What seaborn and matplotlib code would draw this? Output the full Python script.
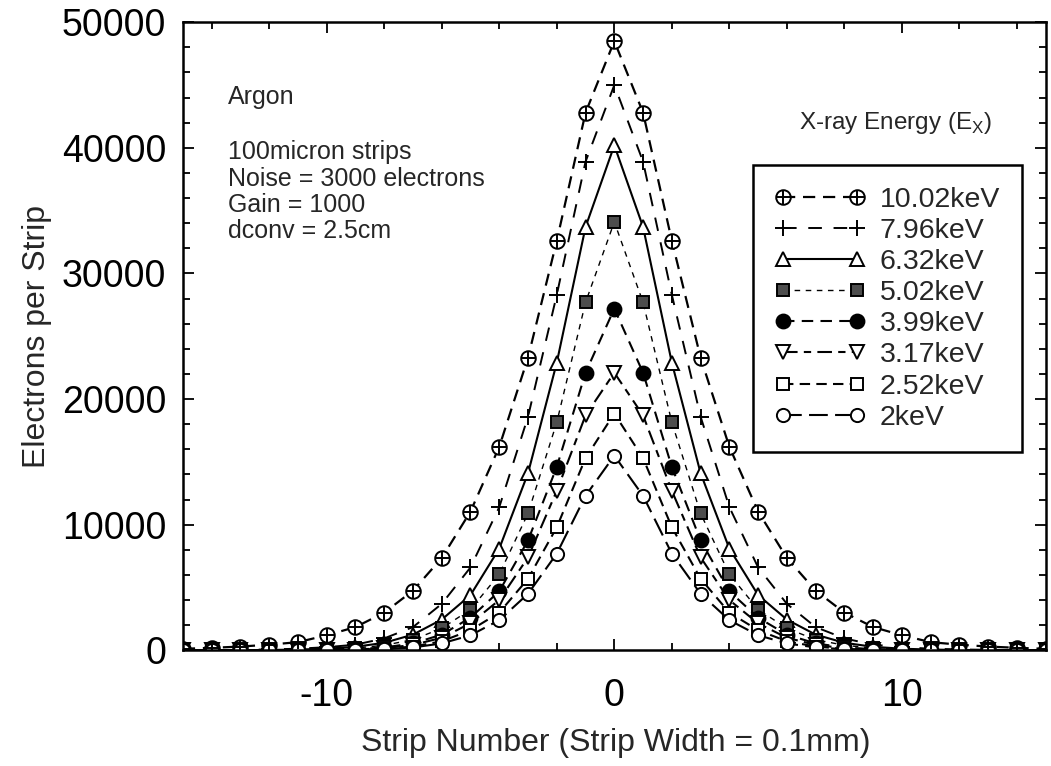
import matplotlib
matplotlib.use("Agg")
import matplotlib.pyplot as plt
from matplotlib.ticker import MultipleLocator
import seaborn as sns

# strip index and electrons per strip for each X-ray energy
strips = list(range(-15, 16))
kev_1002 = [120, 200, 300, 450, 650, 1200, 1850, 3000, 4750, 7350, 11050, 16200, 23300, 32600, 42800, 48500,
            42800, 32600, 23300, 16200, 11050, 7350, 4750, 3000, 1850, 1200, 650, 450, 300, 200, 120]
kev_796 = [10, 20, 40, 70, 130, 250, 450, 950, 1850, 3700, 6600, 11400, 18600, 28300, 38900, 45000,
           38900, 28300, 18600, 11400, 6600, 3700, 1850, 950, 450, 250, 130, 70, 40, 20, 10]
kev_632 = [4, 8, 15, 30, 60, 130, 280, 600, 1250, 2450, 4400, 8100, 14100, 22900, 33700, 40200,
           33700, 22900, 14100, 8100, 4400, 2450, 1250, 600, 280, 130, 60, 30, 15, 8, 4]
kev_502 = [1, 3, 7, 15, 35, 80, 180, 400, 850, 1750, 3250, 6050, 10900, 18150, 27700, 34100,
           27700, 18150, 10900, 6050, 3250, 1750, 850, 400, 180, 80, 35, 15, 7, 3, 1]
kev_399 = [0, 1, 2, 5, 14, 35, 90, 230, 550, 1250, 2600, 4700, 8750, 14600, 22100, 27200,
           22100, 14600, 8750, 4700, 2600, 1250, 550, 230, 90, 35, 14, 5, 2, 1, 0]
kev_317 = [0, 0, 1, 3, 9, 25, 65, 170, 430, 1000, 2150, 4000, 7400, 12700, 18700, 22100,
           18700, 12700, 7400, 4000, 2150, 1000, 430, 170, 65, 25, 9, 3, 1, 0, 0]
kev_252 = [0, 0, 1, 2, 6, 16, 45, 120, 300, 720, 1600, 3000, 5700, 9800, 15300, 18850,
           15300, 9800, 5700, 3000, 1600, 720, 300, 120, 45, 16, 6, 2, 1, 0, 0]
kev_200 = [0, 0, 0, 1, 4, 12, 33, 90, 230, 550, 1200, 2400, 4500, 7700, 12300, 15500,
           12300, 7700, 4500, 2400, 1200, 550, 230, 90, 33, 12, 4, 1, 0, 0, 0]
labels = ["10.02keV", "7.96keV", "6.32keV", "5.02keV", "3.99keV", "3.17keV", "2.52keV", "2keV"]

sns.set_style("ticks")
plt.rcParams["font.family"] = ["Liberation Sans", "DejaVu Sans"]
plt.rcParams["axes.unicode_minus"] = False

fig = plt.figure(figsize=(10.51, 7.66), dpi=100)
ax = fig.add_axes([0.174, 0.151, 0.821, 0.820])

series = [kev_1002, kev_796, kev_632, kev_502, kev_399, kev_317, kev_252, kev_200]
looks = [
    dict(marker="o", mfc="white", ls=(0, (5.5, 3.5)), lw=1.6, ms=10.5),
    dict(marker="+", mfc="black", ls=(0, (7, 6)), lw=1.4, ms=12),
    dict(marker="^", mfc="white", ls="-", lw=1.5, ms=10.5),
    dict(marker="s", mfc="#4d4d4d", ls=(0, (4, 4)), lw=1.0, ms=8.5),
    dict(marker="o", mfc="black", ls=(0, (5.5, 3.5)), lw=1.5, ms=10),
    dict(marker="v", mfc="white", ls=(0, (7, 3, 3.5, 3)), lw=1.5, ms=10.5),
    dict(marker="s", mfc="white", ls=(0, (5, 3)), lw=1.5, ms=9),
    dict(marker="o", mfc="white", ls=(0, (9, 3.5)), lw=1.5, ms=9.5),
]

handles = []
for vals, lk in zip(series, looks):
    sns.lineplot(x=strips, y=vals, ax=ax, color="black", marker=lk["marker"],
                 markersize=lk["ms"], markerfacecolor=lk["mfc"], markeredgecolor="black",
                 markeredgewidth=1.4, linestyle=lk["ls"], linewidth=lk["lw"])
    handles.append(ax.lines[-1])

# cross inside the circles of the 10.02keV series
cross, = ax.plot(strips, kev_1002, ls="none", marker="+", ms=10.5, mew=1.4, color="black")
handles[0] = (handles[0], cross)

ax.set_xlim(-15, 15)
ax.set_ylim(0, 50000)
ax.xaxis.set_major_locator(MultipleLocator(10))
ax.xaxis.set_minor_locator(MultipleLocator(2))
ax.yaxis.set_major_locator(MultipleLocator(10000))
ax.yaxis.set_minor_locator(MultipleLocator(2000))
ax.tick_params(which="both", direction="in", top=True, right=True, width=1.3, colors="black")
ax.tick_params(which="major", length=8, labelsize=27)
ax.tick_params(which="minor", length=5)
ax.tick_params(axis="y", pad=12)
ax.tick_params(axis="x", pad=20)
for sp in ax.spines.values():
    sp.set_linewidth(1.8)
    sp.set_color("black")

ax.set_xlabel("Strip Number (Strip Width = 0.1mm)", fontsize=23)
ax.set_ylabel("Electrons per Strip", fontsize=23)
ax.xaxis.set_label_coords(0.502, -0.123)
ax.yaxis.set_label_coords(-0.152, 0.5)

ax.text(0.052, 0.881, "Argon", transform=ax.transAxes, fontsize=18, va="center")
ax.text(0.052, 0.812, "100micron strips\nNoise = 3000 electrons\nGain = 1000\ndconv = 2.5cm",
        transform=ax.transAxes, fontsize=18, va="top", linespacing=1.12)
ax.text(0.826, 0.839, r"X-ray Energy (E$_\mathregular{X}$)", transform=ax.transAxes,
        fontsize=17.5, ha="center", va="center")

leg = ax.legend(handles, labels, loc="upper right", bbox_to_anchor=(0.972, 0.772),
                borderaxespad=0, numpoints=2, handlelength=3.2, handletextpad=0.5,
                borderpad=0.75, labelspacing=0.18, fontsize=20.5, frameon=True,
                fancybox=False, framealpha=1, edgecolor="black")
leg.get_frame().set_linewidth(1.8)

fig.savefig("out.png", dpi=100)
